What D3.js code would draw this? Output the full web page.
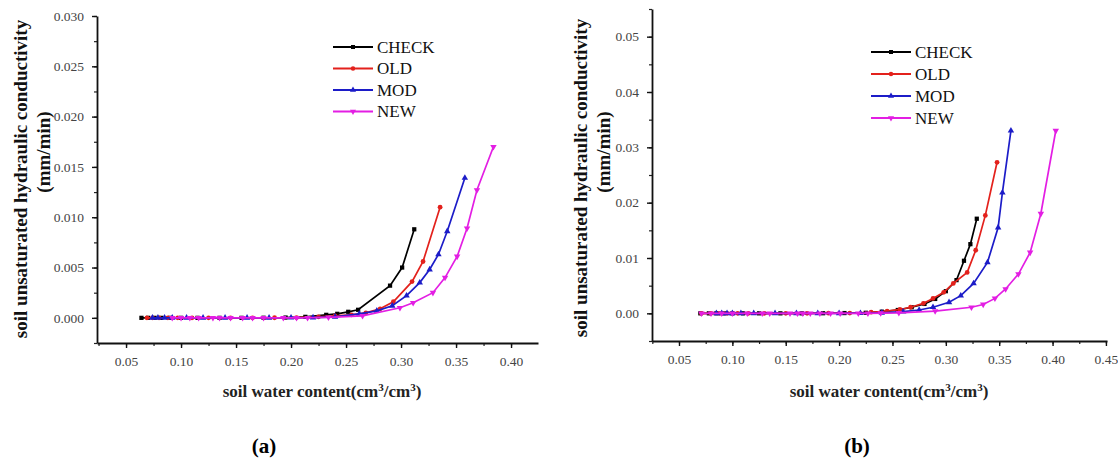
<!DOCTYPE html>
<html><head><meta charset="utf-8">
<script src="https://cdn.jsdelivr.net/npm/d3@7"></script>
<style>
html,body{margin:0;padding:0;background:#fff;}
svg{display:block;}
</style></head>
<body>
<svg id="chart" width="1118" height="460"></svg>
<script>
// ---------- data ----------
const seriesNames = ["CHECK", "OLD", "MOD", "NEW"];

// panel (a)
const checkA_x = [0.064, 0.070, 0.076, 0.082, 0.090, 0.100, 0.115, 0.135, 0.155, 0.175, 0.195, 0.213, 0.232, 0.242, 0.252, 0.261, 0.290, 0.301, 0.312];
const checkA_y = [0, 0, 0, 0, 0, 0, 0, 0, 0, 0.00001, 0.00003, 0.0001, 0.0003, 0.0004, 0.0006, 0.0008, 0.0032, 0.0050, 0.0088];
const oldA_x = [0.069, 0.074, 0.080, 0.088, 0.097, 0.110, 0.125, 0.145, 0.165, 0.185, 0.205, 0.225, 0.240, 0.255, 0.268, 0.281, 0.293, 0.310, 0.320, 0.3355];
const oldA_y = [0, 0, 0, 0, 0, 0, 0, 0, 0, 0.00001, 0.00003, 0.0001, 0.0002, 0.0003, 0.0005, 0.0009, 0.0016, 0.0036, 0.0056, 0.0110];
const modA_x = [0.074, 0.079, 0.085, 0.092, 0.105, 0.120, 0.140, 0.160, 0.180, 0.200, 0.220, 0.240, 0.262, 0.278, 0.292, 0.305, 0.317, 0.326, 0.334, 0.342, 0.358];
const modA_y = [0, 0, 0, 0, 0, 0, 0, 0, 0, 0.00001, 0.00003, 0.0001, 0.0004, 0.0007, 0.0012, 0.0022, 0.0035, 0.0048, 0.0063, 0.0086, 0.0139];
const newA_x = [0.092, 0.100, 0.108, 0.116, 0.129, 0.135, 0.145, 0.156, 0.165, 0.175, 0.193, 0.205, 0.215, 0.234, 0.265, 0.299, 0.311, 0.329, 0.340, 0.351, 0.360, 0.369, 0.384];
const newA_y = [0, 0, 0, 0, 0, 0, 0, 0, 0, 0, 0, 0, 0.00001, 0.00005, 0.0002, 0.0010, 0.0015, 0.0025, 0.0040, 0.0061, 0.0089, 0.0127, 0.0170];

// panel (b)
const checkB_x = [0.070, 0.078, 0.085, 0.092, 0.100, 0.110, 0.125, 0.145, 0.165, 0.185, 0.205, 0.225, 0.240, 0.255, 0.268, 0.280, 0.290, 0.300, 0.310, 0.317, 0.323, 0.329];
const checkB_y = [0, 0, 0, 0, 0, 0, 0, 0, 0, 0.00002, 0.00005, 0.0001, 0.0003, 0.0006, 0.0011, 0.0017, 0.0026, 0.0040, 0.0060, 0.0095, 0.0125, 0.0171];
const oldB_x = [0.071, 0.080, 0.088, 0.095, 0.105, 0.115, 0.130, 0.150, 0.170, 0.190, 0.210, 0.230, 0.245, 0.257, 0.267, 0.279, 0.288, 0.298, 0.307, 0.320, 0.328, 0.337, 0.348];
const oldB_y = [0, 0, 0, 0, 0, 0, 0, 0, 0, 0.00002, 0.00005, 0.0002, 0.0004, 0.0007, 0.0011, 0.0018, 0.0027, 0.0038, 0.0054, 0.0074, 0.0114, 0.0177, 0.0273];
const modB_x = [0.085, 0.090, 0.095, 0.100, 0.108, 0.120, 0.140, 0.160, 0.180, 0.200, 0.220, 0.240, 0.260, 0.275, 0.288, 0.303, 0.314, 0.326, 0.339, 0.349, 0.353, 0.361];
const modB_y = [0, 0, 0, 0, 0, 0, 0, 0, 0, 0.00001, 0.00003, 0.0001, 0.0003, 0.0006, 0.0011, 0.0020, 0.0032, 0.0054, 0.0092, 0.0155, 0.0218, 0.0330];
const newB_x = [0.071, 0.080, 0.090, 0.100, 0.114, 0.128, 0.135, 0.154, 0.161, 0.166, 0.173, 0.182, 0.192, 0.201, 0.218, 0.227, 0.239, 0.256, 0.290, 0.324, 0.335, 0.346, 0.356, 0.368, 0.379, 0.389, 0.403];
const newB_y = [0, 0, 0, 0, 0, 0, 0, 0, 0, 0, 0, 0, 0, 0, 0, 0, 0.00005, 0.0001, 0.0004, 0.0011, 0.0016, 0.0027, 0.0044, 0.0071, 0.0110, 0.0180, 0.0330];

// tick labels
const xTicksA = [0.05, 0.10, 0.15, 0.20, 0.25, 0.30, 0.35, 0.40];
const yTicksA = [0.000, 0.005, 0.010, 0.015, 0.020, 0.025, 0.030];
const xTicksB = [0.05, 0.10, 0.15, 0.20, 0.25, 0.30, 0.35, 0.40, 0.45];
const yTicksB = [0.00, 0.01, 0.02, 0.03, 0.04, 0.05];

const xTitle = "soil water content(cm";
const yTitle1 = "soil unsaturated hydraulic conductivity";
const yTitle2 = "(mm/min)";

// ---------- styles ----------
const colors = ["#000000", "#e3211c", "#1c1cc8", "#e31ee3"];
const symbols = [d3.symbolSquare, d3.symbolCircle, d3.symbolTriangle, d3.symbolTriangle];
const rotations = [0, 0, 0, 180];
const SERIF = "'Liberation Serif','Times New Roman',serif";

const svg = d3.select("#chart");

function drawPanel(p) {
  const g = svg.append("g");
  const x = d3.scaleLinear().domain(p.xDomain).range([p.left, p.right]);
  const y = d3.scaleLinear().domain(p.yDomain).range([p.bottom, p.top]);

  // minor ticks
  const xMinor = d3.range(Math.ceil(p.xDomain[0] / p.xMinorStep), Math.floor(p.xDomain[1] / p.xMinorStep + 1e-6) + 1).map(i => +(i * p.xMinorStep).toFixed(4));
  const yMinor = d3.range(Math.ceil(p.yDomain[0] / p.yMinorStep - 1e-6), Math.floor(p.yDomain[1] / p.yMinorStep + 1e-6) + 1).map(i => +(i * p.yMinorStep).toFixed(5));

  g.append("g").attr("transform", `translate(0,${p.bottom})`)
    .call(d3.axisBottom(x).tickValues(xMinor).tickSize(3).tickFormat(""))
    .call(a => a.select(".domain").remove())
    .selectAll("line").attr("stroke", "#222").attr("stroke-width", 1.2);
  g.append("g").attr("transform", `translate(${p.left},0)`)
    .call(d3.axisLeft(y).tickValues(yMinor).tickSize(3).tickFormat(""))
    .call(a => a.select(".domain").remove())
    .selectAll("line").attr("stroke", "#222").attr("stroke-width", 1.2);

  // major axes
  const xa = g.append("g").attr("transform", `translate(0,${p.bottom})`)
    .call(d3.axisBottom(x).tickValues(p.xTicks).tickSize(5).tickSizeOuter(0).tickPadding(8).tickFormat(d3.format(".2f")));
  const ya = g.append("g").attr("transform", `translate(${p.left},0)`)
    .call(d3.axisLeft(y).tickValues(p.yTicks).tickSize(5).tickSizeOuter(0).tickPadding(8).tickFormat(d3.format(p.yFormat)));
  [xa, ya].forEach(a => {
    a.attr("font-family", SERIF);
    a.select(".domain").attr("stroke", "#111").attr("stroke-width", 1.8);
    a.selectAll(".tick line").attr("stroke", "#111").attr("stroke-width", 1.4);
    a.selectAll("text").attr("font-family", SERIF).attr("font-size", 13.5).attr("fill", "#444");
  });

  // series
  const line = d3.line().x(d => x(d[0])).y(d => y(d[1]));
  p.series.forEach((s, i) => {
    const pts = s.x.map((v, k) => [v, s.y[k]]);
    g.append("path").datum(pts).attr("d", line)
      .attr("fill", "none").attr("stroke", colors[i]).attr("stroke-width", 1.7);
    g.append("g").selectAll("path").data(pts).join("path")
      .attr("d", d3.symbol().type(symbols[i]).size(18))
      .attr("transform", d => `translate(${x(d[0])},${y(d[1])}) rotate(${rotations[i]})`)
      .attr("fill", colors[i]);
  });

  // legend
  const lg = g.append("g");
  seriesNames.forEach((n, i) => {
    const ly = p.legY + i * p.legStep;
    lg.append("line").attr("x1", p.legX).attr("x2", p.legX + 40).attr("y1", ly).attr("y2", ly)
      .attr("stroke", colors[i]).attr("stroke-width", 2.2);
    lg.append("path").attr("d", d3.symbol().type(symbols[i]).size(16)())
      .attr("transform", `translate(${p.legX + 20},${ly}) rotate(${rotations[i]})`)
      .attr("fill", colors[i]);
    lg.append("text").attr("x", p.legX + 44).attr("y", ly).attr("dy", "0.35em")
      .attr("font-family", SERIF).attr("font-size", 17).attr("fill", "#111").text(n);
  });

  // x title
  const xt = g.append("text").attr("x", p.xTitleX).attr("y", p.xTitleY)
    .attr("text-anchor", "middle").attr("font-family", SERIF).attr("font-weight", "bold")
    .attr("font-size", 17).attr("fill", "#222");
  xt.append("tspan").text(xTitle);
  xt.append("tspan").attr("dy", -6).attr("font-size", 11).text("3");
  xt.append("tspan").attr("dy", 6).text("/cm");
  xt.append("tspan").attr("dy", -6).attr("font-size", 11).text("3");
  xt.append("tspan").attr("dy", 6).text(")");

  // y title
  g.append("text").attr("transform", `translate(${p.yTitleX1},${p.yTitleCY}) rotate(-90)`)
    .attr("text-anchor", "middle").attr("dy", "0.35em")
    .attr("font-family", SERIF).attr("font-weight", "bold").attr("font-size", 19).attr("fill", "#111")
    .text(yTitle1);
  g.append("text").attr("transform", `translate(${p.yTitleX2},${p.yTitle2CY}) rotate(-90)`)
    .attr("text-anchor", "middle").attr("dy", "0.35em")
    .attr("font-family", SERIF).attr("font-weight", "bold").attr("font-size", 19).attr("fill", "#111")
    .text(yTitle2);

  // panel label
  g.append("text").attr("x", p.labX).attr("y", 453).attr("text-anchor", "middle")
    .attr("font-family", SERIF).attr("font-weight", "bold").attr("font-size", 21).attr("fill", "#000")
    .text(p.label);
}

drawPanel({
  xDomain: [0.0236, 0.4245], yDomain: [-0.0025, 0.030],
  left: 97, right: 538, top: 16, bottom: 343,
  xTicks: xTicksA, yTicks: yTicksA, yFormat: ".3f",
  xMinorStep: 0.025, yMinorStep: 0.0025,
  series: [
    {x: checkA_x, y: checkA_y}, {x: oldA_x, y: oldA_y},
    {x: modA_x, y: modA_y}, {x: newA_x, y: newA_y}],
  legX: 333, legY: 47, legStep: 21.5,
  xTitleX: 322, xTitleY: 397,
  yTitleX1: 20, yTitleX2: 43, yTitleCY: 179, yTitle2CY: 152,
  labX: 264, label: "(a)"
});

drawPanel({
  xDomain: [0.0247, 0.451], yDomain: [-0.005, 0.055],
  left: 652, right: 1107, top: 9, bottom: 341,
  xTicks: xTicksB, yTicks: yTicksB, yFormat: ".2f",
  xMinorStep: 0.025, yMinorStep: 0.005,
  series: [
    {x: checkB_x, y: checkB_y}, {x: oldB_x, y: oldB_y},
    {x: modB_x, y: modB_y}, {x: newB_x, y: newB_y}],
  legX: 871, legY: 52, legStep: 22,
  xTitleX: 889, xTitleY: 397,
  yTitleX1: 580, yTitleX2: 603, yTitleCY: 178, yTitle2CY: 152,
  labX: 857, label: "(b)"
});
</script>
</body></html>
